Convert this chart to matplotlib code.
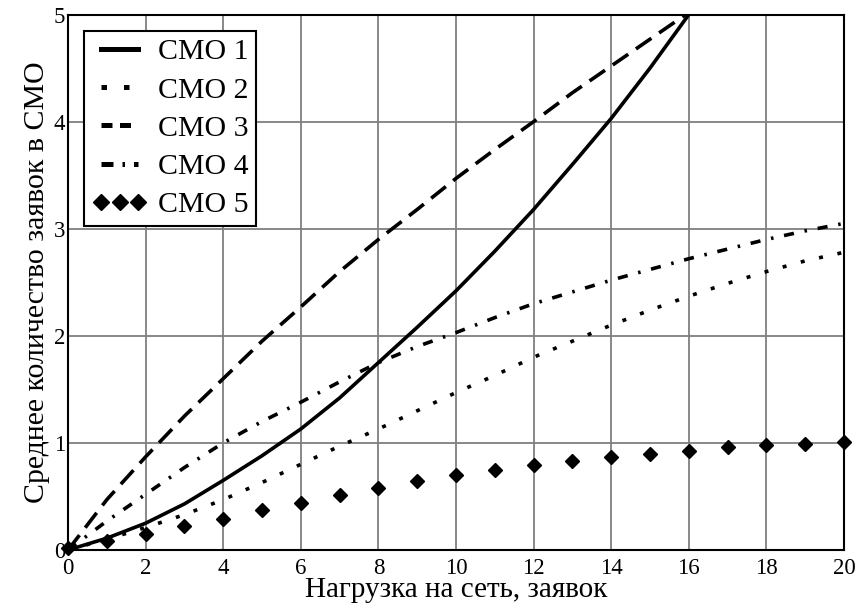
import matplotlib
matplotlib.use("Agg")
import matplotlib.pyplot as plt
from matplotlib.lines import Line2D

plt.rcParams['font.family'] = ['Liberation Serif', 'DejaVu Serif']

# ---- data ----
x_int = list(range(0, 21))
x_smo1 = list(range(0, 17))
smo1 = [0.0, 0.11, 0.25, 0.43, 0.65, 0.88, 1.13, 1.42, 1.75, 2.08, 2.42, 2.79, 3.18, 3.60, 4.03, 4.50, 5.0]
smo2 = [0.0, 0.10, 0.21, 0.33, 0.47, 0.63, 0.80, 0.97, 1.13, 1.30, 1.47, 1.63, 1.80, 1.95, 2.10, 2.24, 2.37, 2.49, 2.60, 2.70, 2.78]
x_smo3 = list(range(0, 17))
smo3 = [0.0, 0.47, 0.87, 1.25, 1.60, 1.95, 2.27, 2.60, 2.90, 3.18, 3.47, 3.74, 4.00, 4.27, 4.52, 4.77, 5.02]
smo4 = [0.0, 0.27, 0.52, 0.77, 1.00, 1.20, 1.38, 1.57, 1.75, 1.90, 2.03, 2.17, 2.30, 2.41, 2.52, 2.62, 2.72, 2.81, 2.90, 2.98, 3.05]
smo5 = [0.02, 0.08, 0.15, 0.22, 0.29, 0.37, 0.44, 0.51, 0.58, 0.64, 0.70, 0.75, 0.79, 0.83, 0.87, 0.90, 0.92, 0.96, 0.98, 0.99, 1.01]
labels = ["СМО 1", "СМО 2", "СМО 3", "СМО 4", "СМО 5"]
xticks = list(range(0, 21, 2))
yticks = list(range(0, 6))
xlabel = "Нагрузка на сеть, заявок"
ylabel = "Среднее количество заявок в СМО"

fig = plt.figure(figsize=(8.62, 6.13), dpi=100)
ax = fig.add_axes([0.0789, 0.1028, 0.9002, 0.8734])

lw = 2.6
ax.plot(x_smo1, smo1, color='black', lw=lw, label=labels[0], zorder=3)
ax.plot(x_int, smo2, color='black', lw=lw, dashes=(1.1, 4.1), dash_capstyle='butt', label=labels[1], zorder=3)
ax.plot(x_smo3, smo3, color='black', lw=lw, dashes=(5.2, 2.6), label=labels[2], zorder=3)
ax.plot(x_int, smo4, color='black', lw=lw, dashes=(2.8, 3.0, 0.7, 3.0), label=labels[3], zorder=3)
ax.plot(x_int, smo5, color='black', lw=0, marker='D', markersize=7, label=labels[4], zorder=3, clip_on=False)

ax.set_xlim(0, 20)
ax.set_ylim(0, 5)
ax.set_xticks(xticks)
ax.set_yticks(yticks)
ax.grid(True, color='#7f7f7f', lw=1.3)
ax.set_axisbelow(True)
ax.tick_params(length=0, labelsize=16.5)
ax.tick_params(axis='x', pad=6)
ax.tick_params(axis='y', pad=2)
for s in ax.spines.values():
    s.set_linewidth(1.5)
    s.set_color('black')

ax.set_xlabel(xlabel, fontsize=21, labelpad=-1.5)
ax.set_ylabel(ylabel, fontsize=21.5, labelpad=3)

hl = lw + 1.0
handles = [
    Line2D([], [], color='black', lw=hl),
    Line2D([], [], color='black', lw=hl, dashes=(1.1, 3.4)),
    Line2D([], [], color='black', lw=hl, dashes=(2.2, 1.5, 2.2, 1.5, 0.5, 1.5)),
    Line2D([], [], color='black', lw=hl, dashes=(2.4, 1.8, 0.5, 1.8)),
    Line2D([], [], color='black', lw=0, marker='D', markersize=8),
]
leg = ax.legend(handles, labels, loc='upper left', fontsize=21.5, frameon=True, fancybox=False,
                edgecolor='black', framealpha=1, borderaxespad=0.55, handlelength=1.85,
                handletextpad=0.35, labelspacing=0.38, borderpad=0.25, numpoints=3)
leg.get_frame().set_linewidth(1.5)

fig.savefig("out.png", dpi=100)
